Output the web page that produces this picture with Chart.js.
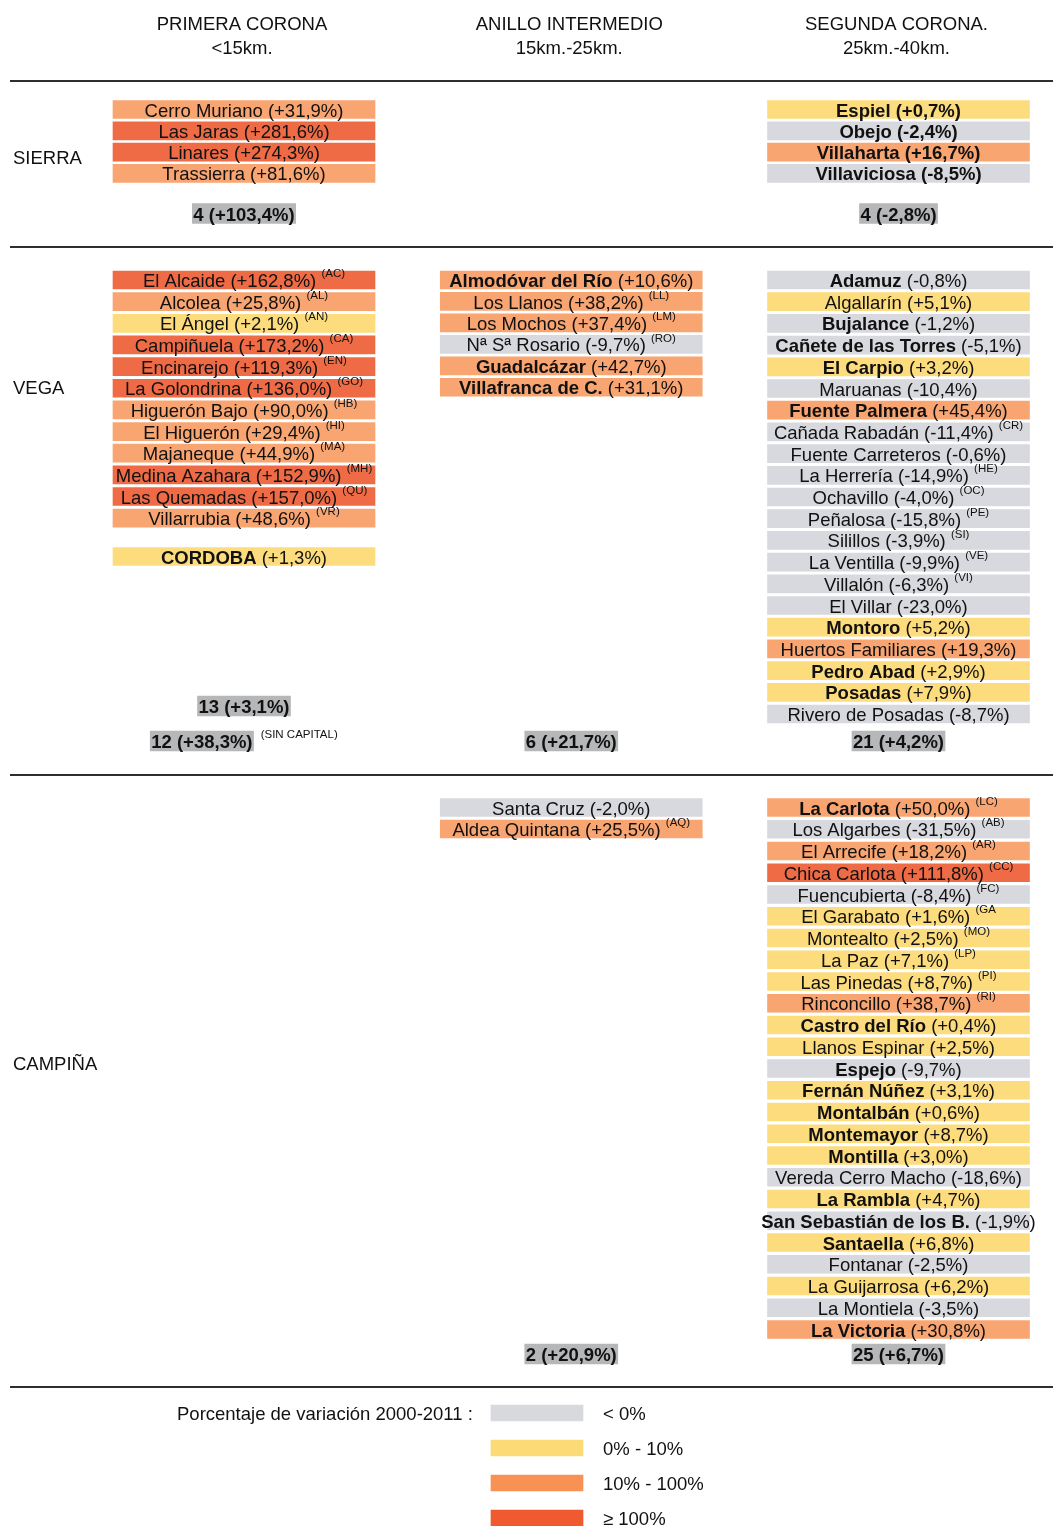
<!DOCTYPE html>
<html>
<head>
<meta charset="utf-8">
<script src="https://cdn.jsdelivr.net/npm/chart.js@4.4.1/dist/chart.umd.min.js"></script>
<style>
html,body{margin:0;padding:0;background:#fff;}
#wrap{width:1053px;height:1526px;}
canvas{display:block;}
</style>
</head>
<body>
<div id="wrap"><canvas id="c" width="1053" height="1526"></canvas></div>
<script>
// ===================== DATA =====================
const columnHeaders = [["PRIMERA CORONA", "<15km."], ["ANILLO INTERMEDIO", "15km.-25km."], ["SEGUNDA CORONA.", "25km.-40km."]];
const zoneNames = ["SIERRA", "VEGA", "CAMPIÑA"];

const sierraPrimeraNames = ["Cerro Muriano", "Las Jaras", "Linares", "Trassierra"];
const sierraPrimeraValues = [31.9, 281.6, 274.3, 81.6];

const sierraSegundaNames = ["Espiel", "Obejo", "Villaharta", "Villaviciosa"];
const sierraSegundaValues = [0.7, -2.4, 16.7, -8.5];

const vegaPrimeraNames = ["El Alcaide", "Alcolea", "El Ángel", "Campiñuela", "Encinarejo", "La Golondrina", "Higuerón Bajo", "El Higuerón", "Majaneque", "Medina Azahara", "Las Quemadas", "Villarrubia"];
const vegaPrimeraValues = [162.8, 25.8, 2.1, 173.2, 119.3, 136.0, 90.0, 29.4, 44.9, 152.9, 157.0, 48.6];
const vegaPrimeraCodes = ["(AC)", "(AL)", "(AN)", "(CA)", "(EN)", "(GO)", "(HB)", "(HI)", "(MA)", "(MH)", "(QU)", "(VR)"];

const capitalNames = ["CORDOBA"];
const capitalValues = [1.3];

const vegaIntermedioNames = ["Almodóvar del Río", "Los Llanos", "Los Mochos", "Nª Sª Rosario", "Guadalcázar", "Villafranca de C."];
const vegaIntermedioValues = [10.6, 38.2, 37.4, -9.7, 42.7, 31.1];
const vegaIntermedioCodes = ["", "(LL)", "(LM)", "(RO)", "", ""];

const vegaSegundaNames = ["Adamuz", "Algallarín", "Bujalance", "Cañete de las Torres", "El Carpio", "Maruanas", "Fuente Palmera", "Cañada Rabadán", "Fuente Carreteros", "La Herrería", "Ochavillo", "Peñalosa", "Silillos", "La Ventilla", "Villalón", "El Villar", "Montoro", "Huertos Familiares", "Pedro Abad", "Posadas", "Rivero de Posadas"];
const vegaSegundaValues = [-0.8, 5.1, -1.2, -5.1, 3.2, -10.4, 45.4, -11.4, -0.6, -14.9, -4.0, -15.8, -3.9, -9.9, -6.3, -23.0, 5.2, 19.3, 2.9, 7.9, -8.7];
const vegaSegundaCodes = ["", "", "", "", "", "", "", "(CR)", "", "(HE)", "(OC)", "(PE)", "(SI)", "(VE)", "(VI)", "", "", "", "", "", ""];

const campinaIntermedioNames = ["Santa Cruz", "Aldea Quintana"];
const campinaIntermedioValues = [-2.0, 25.5];
const campinaIntermedioCodes = ["", "(AQ)"];

const campinaSegundaNames = ["La Carlota", "Los Algarbes", "El Arrecife", "Chica Carlota", "Fuencubierta", "El Garabato", "Montealto", "La Paz", "Las Pinedas", "Rinconcillo", "Castro del Río", "Llanos Espinar", "Espejo", "Fernán Núñez", "Montalbán", "Montemayor", "Montilla", "Vereda Cerro Macho", "La Rambla", "San Sebastián de los B.", "Santaella", "Fontanar", "La Guijarrosa", "La Montiela", "La Victoria"];
const campinaSegundaValues = [50.0, -31.5, 18.2, 111.8, -8.4, 1.6, 2.5, 7.1, 8.7, 38.7, 0.4, 2.5, -9.7, 3.1, 0.6, 8.7, 3.0, -18.6, 4.7, -1.9, 6.8, -2.5, 6.2, -3.5, 30.8];
const campinaSegundaCodes = ["(LC)", "(AB)", "(AR)", "(CC)", "(FC)", "(GA", "(MO)", "(LP)", "(PI)", "(RI)", "", "", "", "", "", "", "", "", "", "", "", "", "", "", ""];

// totals per zone / ring: number of settlements and aggregate variation
const totalsCounts = [4, 4, 13, 12, 6, 21, 2, 25];
const totalsPct = [103.4, -2.8, 3.1, 38.3, 21.7, 4.2, 20.9, 6.7];
const totalsNotes = ["", "", "", "(SIN CAPITAL)", "", "", "", ""];

const legendTitle = "Porcentaje de variación 2000-2011 :";
const legendLabels = ["< 0%", "0% - 10%", "10% - 100%", "≥ 100%"];
const classBreaks = [0, 10, 100];

// ===================== STYLE / LAYOUT =====================
const FONT = "'Liberation Sans', Arial, Helvetica, sans-serif";
const F_NORMAL = "18.5px " + FONT;
const F_BOLD = "bold 18.5px " + FONT;
const F_SUP = "11.5px " + FONT;
const TEXT_COLOR = "#111111";
const TEXT_DY = 2;
const CELL_COLORS = ["#d8d9de", "#fcdc7c", "#f8a572", "#ef6b45"];
const LEGEND_COLORS = ["#d7d9dd", "#fcdb77", "#f79154", "#f05a31"];
const TOTAL_COLOR = "#b6b7b9";

const BOLD_NAMES = ["CORDOBA", "Almodóvar del Río", "Guadalcázar", "Villafranca de C.", "Adamuz", "Bujalance", "Cañete de las Torres", "El Carpio", "Fuente Palmera", "Montoro", "Pedro Abad", "Posadas", "La Carlota", "Castro del Río", "Espejo", "Fernán Núñez", "Montalbán", "Montemayor", "Montilla", "La Rambla", "San Sebastián de los B.", "Santaella", "La Victoria"];
const FULL_BOLD_NAMES = ["Espiel", "Obejo", "Villaharta", "Villaviciosa"];

const W = 1053, H = 1526;
const FIRST_COL_PX = 244, COL_SPACING_PX = 327.25;
const X_MIN = -FIRST_COL_PX / COL_SPACING_PX;
const X_MAX = (W - FIRST_COL_PX) / COL_SPACING_PX;
const PX = 1 / COL_SPACING_PX;           // x units per pixel
const CELL_HALF = 131 * PX;

const GROUPS = [
  { names: sierraPrimeraNames, values: sierraPrimeraValues, codes: null, col: 0, top: 109.5, pitch: 21.3 },
  { names: sierraSegundaNames, values: sierraSegundaValues, codes: null, col: 2, top: 109.5, pitch: 21.3 },
  { names: vegaPrimeraNames, values: vegaPrimeraValues, codes: vegaPrimeraCodes, col: 0, top: 280, pitch: 21.65 },
  { names: capitalNames, values: capitalValues, codes: null, col: 0, top: 556.5, pitch: 21.65 },
  { names: vegaIntermedioNames, values: vegaIntermedioValues, codes: vegaIntermedioCodes, col: 1, top: 280, pitch: 21.45 },
  { names: vegaSegundaNames, values: vegaSegundaValues, codes: vegaSegundaCodes, col: 2, top: 280, pitch: 21.7 },
  { names: campinaIntermedioNames, values: campinaIntermedioValues, codes: campinaIntermedioCodes, col: 1, top: 807.5, pitch: 21.5 },
  { names: campinaSegundaNames, values: campinaSegundaValues, codes: campinaSegundaCodes, col: 2, top: 807.5, pitch: 21.75 }
];
const TOTALS_LAYOUT = [
  { col: 0, y: 213.5 }, { col: 2, y: 213.5 },
  { col: 0, y: 706 }, { col: 0, y: 741 }, { col: 1, y: 741 }, { col: 2, y: 741 },
  { col: 1, y: 1354 }, { col: 2, y: 1354 }
];
const HEADER_Y = [23, 47];
const ZONE_LABEL_Y = [157, 387, 1063];
const ZONE_LABEL_X_PX = 13;
const SEPARATORS_Y = [81, 247, 775, 1387];
const LEGEND_Y = [1413, 1448, 1483, 1518];
const LEGEND_SWATCH_PX = [491, 583];
const LEGEND_TITLE_X_PX = 177, LEGEND_LABEL_X_PX = 603;

// ===================== HELPERS =====================
function classOf(v) {
  let k = 0;
  while (k < classBreaks.length && v >= classBreaks[k]) k++;
  return k;
}
function fmtPct(v) {
  return (v >= 0 ? "+" : "-") + Math.abs(v).toFixed(1).replace(".", ",") + "%";
}
const mctx = document.createElement("canvas").getContext("2d");
function textW(t, font) { mctx.font = font; return mctx.measureText(t).width; }
function pxToX(px) { return X_MIN + px * PX; }

// ===================== DATASETS =====================
const cellItems = [];
GROUPS.forEach(g => {
  g.names.forEach((n, i) => {
    cellItems.push({
      x: [g.col - CELL_HALF, g.col + CELL_HALF],
      y: g.top + i * g.pitch,
      name: n, v: g.values[i], code: g.codes ? g.codes[i] : ""
    });
  });
});

const totalItems = totalsCounts.map((n, i) => {
  const label = n + " (" + fmtPct(totalsPct[i]) + ")";
  const note = totalsNotes[i];
  const mainW = textW(label, F_BOLD);
  const noteW = note ? textW(" ", F_NORMAL) + 2 + textW(note, F_SUP) : 0;
  const leftPx = -(mainW + noteW) / 2;
  const c = TOTALS_LAYOUT[i].col;
  return {
    x: [c + (leftPx - 1) * PX, c + (leftPx + mainW + 1) * PX],
    y: TOTALS_LAYOUT[i].y, label: label, note: note
  };
});

const legendItems = legendLabels.map((l, i) => ({
  x: [pxToX(LEGEND_SWATCH_PX[0]), pxToX(LEGEND_SWATCH_PX[1])],
  y: LEGEND_Y[i], label: l, k: i
}));

// ===================== TEXT PLUGIN =====================
function drawParts(ctx, cx, cy, parts) {
  let total = 0;
  parts.forEach(p => { ctx.font = p.font; p.w = ctx.measureText(p.t).width; total += p.w; });
  let x = cx - total / 2;
  parts.forEach(p => { ctx.font = p.font; ctx.fillText(p.t, x, cy + (p.dy || 0)); x += p.w; });
}

const textPlugin = {
  id: "tableText",
  afterDatasetsDraw(chart) {
    const ctx = chart.ctx;
    const xs = chart.scales.x, ys = chart.scales.y;
    ctx.save();
    ctx.fillStyle = TEXT_COLOR;
    ctx.textBaseline = "middle";

    // separators
    ctx.strokeStyle = "#2e2e2e";
    ctx.lineWidth = 2;
    SEPARATORS_Y.forEach(y => {
      const py = ys.getPixelForValue(y);
      ctx.beginPath();
      ctx.moveTo(10, py);
      ctx.lineTo(W, py);
      ctx.stroke();
    });

    // column headers
    ctx.textAlign = "center";
    ctx.font = F_NORMAL;
    columnHeaders.forEach((lines, c) => {
      const px = xs.getPixelForValue(c) - 2;
      lines.forEach((t, j) => ctx.fillText(t, px, ys.getPixelForValue(HEADER_Y[j]) + TEXT_DY));
    });

    // zone labels
    ctx.textAlign = "left";
    zoneNames.forEach((z, i) => {
      ctx.fillText(z, xs.getPixelForValue(pxToX(ZONE_LABEL_X_PX)), ys.getPixelForValue(ZONE_LABEL_Y[i]) + TEXT_DY);
    });

    // cell labels
    const cellMeta = chart.getDatasetMeta(0);
    cellMeta.data.forEach((el, i) => {
      const it = cellItems[i];
      const bold = BOLD_NAMES.includes(it.name);
      const full = FULL_BOLD_NAMES.includes(it.name);
      const parts = [
        { t: it.name + " ", font: (bold || full) ? F_BOLD : F_NORMAL },
        { t: "(" + fmtPct(it.v) + ")", font: full ? F_BOLD : F_NORMAL }
      ];
      if (it.code) {
        parts.push({ t: " ", font: F_NORMAL });
        parts.push({ t: it.code, font: F_SUP, dy: -8 });
      }
      drawParts(ctx, (el.x + el.base) / 2, el.y + TEXT_DY, parts);
    });

    // totals
    const totMeta = chart.getDatasetMeta(1);
    totMeta.data.forEach((el, i) => {
      const it = totalItems[i];
      const left = Math.min(el.x, el.base) + 1;
      ctx.font = F_BOLD;
      ctx.fillText(it.label, left, el.y + TEXT_DY);
      if (it.note) {
        const nx = left + textW(it.label, F_BOLD) + 1 + textW(" ", F_NORMAL) + 2;
        ctx.font = F_SUP;
        ctx.fillText(it.note, nx, el.y - 6);
      }
    });

    // legend
    ctx.font = F_NORMAL;
    ctx.fillText(legendTitle, xs.getPixelForValue(pxToX(LEGEND_TITLE_X_PX)), ys.getPixelForValue(LEGEND_Y[0]) + TEXT_DY);
    const legMeta = chart.getDatasetMeta(2);
    legMeta.data.forEach((el, i) => {
      ctx.fillText(legendItems[i].label, xs.getPixelForValue(pxToX(LEGEND_LABEL_X_PX)), el.y + TEXT_DY);
    });
    ctx.restore();
  }
};

// ===================== CHART =====================
new Chart(document.getElementById("c"), {
  type: "bar",
  data: {
    datasets: [
      {
        label: "Núcleos", data: cellItems, grouped: false, barThickness: 18, borderWidth: 0,
        backgroundColor: c => CELL_COLORS[classOf(c.raw.v)]
      },
      {
        label: "Totales", data: totalItems, grouped: false, barThickness: 20, borderWidth: 0,
        backgroundColor: TOTAL_COLOR
      },
      {
        label: "Leyenda", data: legendItems, grouped: false, barThickness: 16, borderWidth: 0,
        backgroundColor: c => LEGEND_COLORS[c.raw.k]
      }
    ]
  },
  options: {
    indexAxis: "y",
    responsive: false,
    animation: false,
    devicePixelRatio: 1,
    layout: { padding: 0 },
    events: [],
    plugins: { legend: { display: false }, tooltip: { enabled: false }, title: { display: false } },
    scales: {
      x: { type: "linear", min: X_MIN, max: X_MAX, display: false, offset: false },
      y: { type: "linear", min: 0, max: H, reverse: true, display: false, offset: false }
    }
  },
  plugins: [textPlugin]
});
</script>
</body>
</html>
